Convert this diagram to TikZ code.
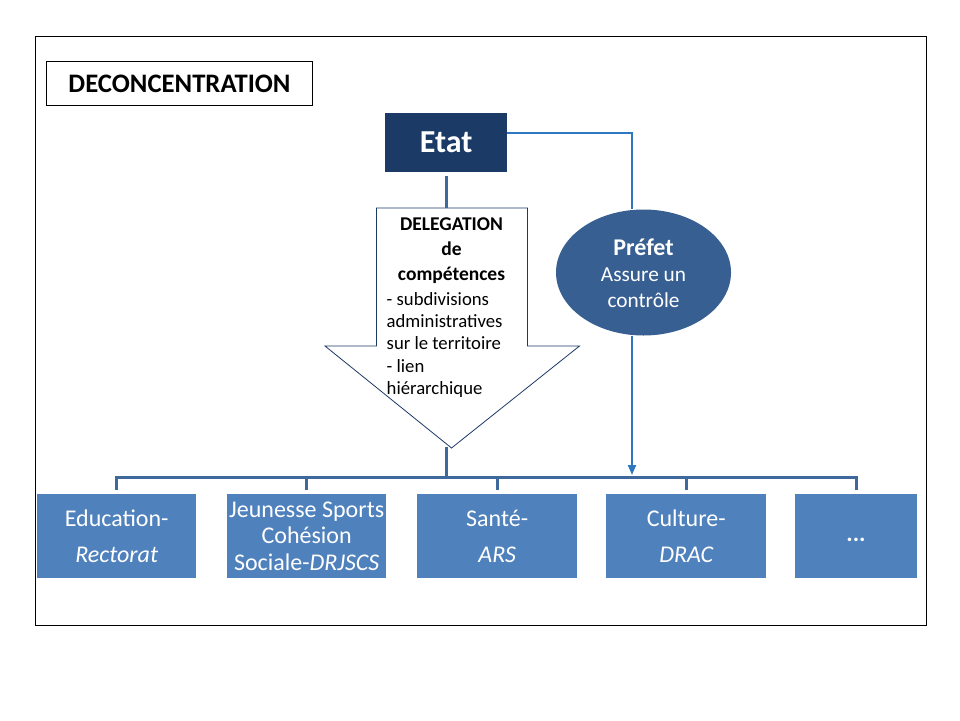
\documentclass[tikz,border=0pt]{standalone}
\usepackage{fontspec}
\setmainfont{Carlito}
\usetikzlibrary{arrows.meta,shapes.geometric}
\definecolor{etatnavy}{HTML}{1B3A66}
\definecolor{prefblue}{HTML}{385F92}
\definecolor{boxblue}{HTML}{4F81BD}
\definecolor{busblue}{HTML}{3F689C}
\definecolor{connblue}{HTML}{2E78C2}
\begin{document}
\begin{tikzpicture}[x=1pt,y=-1pt,
  orgbox/.style={draw=none,fill=boxblue,text=white,minimum width=159pt,minimum height=84pt,inner sep=0pt,anchor=north west,align=center},
  busline/.style={draw=busblue,line width=3pt},
  conn/.style={draw=connblue,line width=2pt},
  fz/.style 2 args={font=\fontsize{#1}{#2}\selectfont}
]
\useasboundingbox[fill=white] (0,0) rectangle (960,720);
% outer frame
\draw[line width=1pt] (35,36) rectangle (926,625);
% title
\node[draw,line width=1pt,minimum width=266pt,minimum height=44pt,anchor=north west,inner sep=0pt,fz={26.7}{30}] (title) at (46,61) {\bfseries DECONCENTRATION};
% Etat
\node[fill=etatnavy,text=white,minimum width=122pt,minimum height=59pt,anchor=north west,inner sep=0pt,fz={32}{36}] (etat) at (385,113) {\bfseries Etat};
% arrow shape
\coordinate (atop) at (446,208);
\coordinate (atip) at (451.5,448);
\draw[draw=etatnavy,line width=0.8pt,fill=white] (376.5,208) -- (527.5,208) -- (527.5,346) -- (579.5,346) -- (atip) -- (325,346) -- (376.5,346) -- cycle;
% arrow texts
\node[fz={19.5}{25},align=center,anchor=north] (deleg) at (451.5,214) {\bfseries DELEGATION\\ \bfseries de\\ \bfseries compétences};
\node[fz={18.7}{22.4},align=left,anchor=north west,inner sep=0pt] (delegtxt) at (386.5,292) {- subdivisions\\administratives\\sur le territoire\\- lien\\hiérarchique};
% Préfet
\node[ellipse,fill=prefblue,text=white,minimum width=175pt,minimum height=126pt,inner sep=0pt,align=center] (prefet) at (643.5,272.5) {};
\node[text=white,fz={24}{26},inner sep=0pt] (preftitle) at (643.5,247.5) {\bfseries Préfet};
\node[text=white,fz={21.3}{25.5},align=center,inner sep=0pt] (preftxt) at (643.5,287.5) {Assure un\\contrôle};
% boxes
\node[orgbox,fz={24}{36}] (edu) at (37,494) {Education-\\\itshape Rectorat};
\node[orgbox,fz={24}{26.5}] (jeu) at (227,494) {Jeunesse Sports\\Cohésion\\Sociale-\itshape DRJSCS};
\node[orgbox,minimum width=160pt,fz={24}{36}] (sante) at (417,494) {Santé-\\\itshape ARS};
\node[orgbox,minimum width=160pt,fz={24}{36}] (cult) at (606,494) {Culture-\\\itshape DRAC};
\node[orgbox,minimum width=122pt,fz={24}{36}] (dots) at (795,494) {};
\node[text=white,fz={24}{26},inner sep=0pt] (dotstxt) at (856,540) {\bfseries ...};
% connectors
\coordinate (busmid) at (446,477);
\coordinate (prefend) at (632,475);
\draw[busline] ([yshift=-4pt]etat.south -| atop) -- (atop);
\draw[busline] (446,447) -- (busmid);
\draw[busline] ([yshift=4pt]edu.north) |- ([yshift=17pt]dots.north) -- ([yshift=4pt]dots.north);
\draw[busline] ([yshift=4pt]jeu.north) -- ([yshift=17pt]jeu.north);
\draw[busline] ([yshift=4pt]sante.north) -- ([yshift=17pt]sante.north);
\draw[busline] ([yshift=4pt]cult.north) -- ([yshift=17pt]cult.north);
\draw[conn] ([yshift=10pt]etat.east) -| (prefend |- prefet.north);
\draw[conn,-{Triangle[length=10pt,width=8pt]}] (prefend |- prefet.south) -- (prefend);
\end{tikzpicture}
\end{document}
